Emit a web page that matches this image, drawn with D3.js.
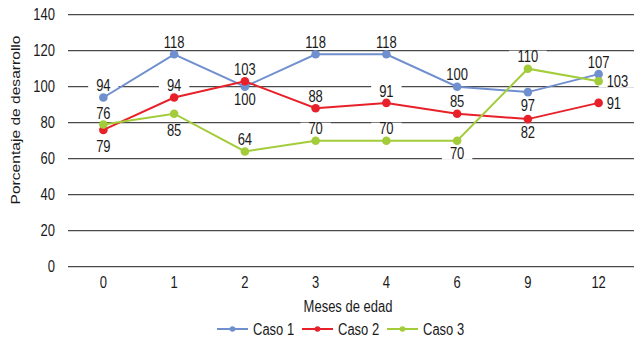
<!DOCTYPE html>
<html>
<head>
<meta charset="utf-8">
<script src="https://cdn.jsdelivr.net/npm/d3@7"></script>
<style>
  body { margin: 0; background: #fff; }
  text { font-family: "Liberation Sans", Arial, sans-serif; font-size: 13px; fill: #1a1a1a; }
</style>
</head>
<body>
<svg id="chart" width="642" height="342"></svg>
<script>
// data
var months = ["0", "1", "2", "3", "4", "6", "9", "12"];
var yTicks = [0, 20, 40, 60, 80, 100, 120, 140];
var caso1 = [94, 118, 100, 118, 118, 100, 97, 107];
var caso2 = [76, 94, 103, 88, 91, 85, 82, 91];
var caso3 = [79, 85, 64, 70, 70, 70, 110, 103];
var seriesNames = ["Caso 1", "Caso 2", "Caso 3"];

// label placement (a = above, b = below, r = right) and extra nudges
var labelPlace = [
  ['a','a','b','a','a','a','b','a'],
  ['a','a','a','a','a','a','b','r'],
  ['b','b','a','a','a','b','a','r']
];
var labelNudge = [
  [0,0,0,0,0,0,0,0],
  [-5,0,0,0,0,0,0,0],
  [9,4,0,0,0,0,0,0]
];
var colors = ["#6f8fce", "#e8202a", "#a3cc3a"];

var svg = d3.select("#chart");
var plotL = 68, plotR = 634, plotT = 14.7, plotB = 266.7;
var SY = 1.2; // text in the picture is stretched vertically

var x = d3.scaleBand().domain(months).range([plotL, plotR]);
var y = d3.scaleLinear().domain([0, 140]).range([plotB, plotT]);
var cx = function(m) { return x(m) + x.bandwidth() / 2; };

function txt(g, px, py, s, anchor) {
  return g.append("text")
    .attr("transform", "translate(" + px + "," + py + ") scale(1," + SY + ")")
    .attr("text-anchor", anchor || "middle")
    .attr("dy", "0.36em")
    .text(s);
}

// grid lines
svg.append("g").selectAll("line")
  .data(yTicks).enter().append("line")
  .attr("x1", plotL).attr("x2", plotR)
  .attr("y1", function(d) { return y(d); })
  .attr("y2", function(d) { return y(d); })
  .attr("stroke", "#4a4a4a")
  .attr("stroke-width", 1.2);

// y tick labels
var yl = svg.append("g");
yTicks.forEach(function(t) { txt(yl, 55, y(t), t, "end"); });

// x tick labels
var xl = svg.append("g");
months.forEach(function(m) { txt(xl, cx(m), 282, m); });

txt(svg, 348, 306, "Meses de edad");

svg.append("text")
  .attr("transform", "translate(15,120) scale(1," + SY + ") rotate(-90)")
  .attr("text-anchor", "middle")
  .attr("dy", "0.36em")
  .text("Porcentaje de desarrollo");

var allSeries = [caso1, caso2, caso3];

// data labels (white boxes behind, under the lines)
var bgG = svg.append("g");
var lines = svg.append("g");
var labelsTop = svg.append("g");

allSeries.forEach(function(vals, si) {
  vals.forEach(function(v, i) {
    var px = cx(months[i]), py = y(v);
    var p = labelPlace[si][i], lx = px, ly, anchor = "middle";
    if (p === 'a') ly = py - 12 + labelNudge[si][i];
    else if (p === 'b') ly = py + 13 + labelNudge[si][i];
    else { lx = px + 8; ly = py; anchor = "start"; }
    txt(labelsTop, lx, ly, v, anchor);
    var w = String(v).length * 7.2;
    var bx = anchor === "middle" ? lx - w / 2 : lx;
    bgG.append("rect")
      .attr("x", bx - 8).attr("y", ly - 6)
      .attr("width", w + 16).attr("height", 12)
      .attr("fill", "#fff");
  });
});

var line = d3.line()
  .x(function(d, i) { return cx(months[i]); })
  .y(function(d) { return y(d); });

allSeries.forEach(function(vals, si) {
  lines.append("path")
    .datum(vals)
    .attr("fill", "none")
    .attr("stroke", colors[si])
    .attr("stroke-width", 2)
    .attr("d", line);
  lines.selectAll(".pt" + si)
    .data(vals).enter().append("circle")
    .attr("cx", function(d, i) { return cx(months[i]); })
    .attr("cy", function(d) { return y(d); })
    .attr("r", 4.3)
    .attr("fill", colors[si]);
});

// legend
var legX = [217, 302, 387];
var legend = svg.append("g");
seriesNames.forEach(function(name, i) {
  legend.append("line")
    .attr("x1", legX[i]).attr("x2", legX[i] + 31)
    .attr("y1", 329).attr("y2", 329)
    .attr("stroke", colors[i]).attr("stroke-width", 2);
  legend.append("circle")
    .attr("cx", legX[i] + 15.5).attr("cy", 329).attr("r", 2.8)
    .attr("fill", colors[i]);
  txt(legend, legX[i] + 36, 329, name, "start");
});
</script>
</body>
</html>
